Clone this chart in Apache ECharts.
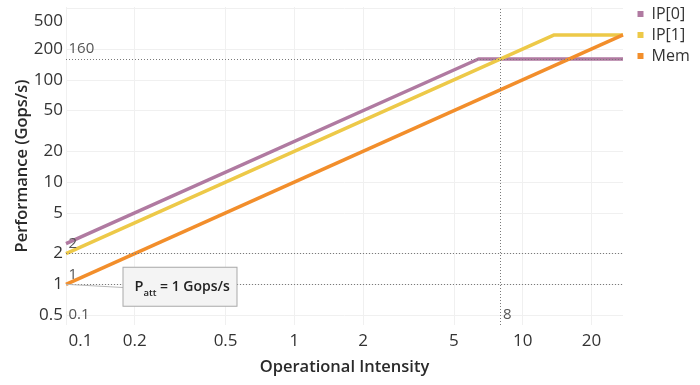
<!DOCTYPE html>
<html>
<head>
<meta charset="utf-8">
<script src="https://cdn.jsdelivr.net/npm/echarts@6/dist/echarts.min.js"></script>
<style>
html,body{margin:0;padding:0;background:#fff;}
#chart{width:700px;height:385px;}
</style>
</head>
<body>
<div id="chart"></div>
<script>
// ---- data ----
const seriesNames = ['IP[0]', 'IP[1]', 'Mem'];
const ip0 = [[0.1, 2.5], [6.4, 160], [27.5, 160]];
const ip1 = [[0.1, 2], [13.75, 275], [27.5, 275]];
const mem = [[0.1, 1], [27.5, 275]];
const xTicks = [0.1, 0.2, 0.5, 1, 2, 5, 10, 20];
const yTicks = [0.5, 1, 2, 5, 10, 20, 50, 100, 200, 500];
const xRange = [0.1, 27.5];
const yRange = [0.4, 516];
const refY = [160, 2, 1];
const refX = [8];
const refLabels = [
  {text: '160', at: [0.1, 160]},
  {text: '2', at: [0.1, 2]},
  {text: '1', at: [0.1, 1]},
  {text: '0.1', at: [0.1, 0.4]},
  {text: '8', at: [8, 0.4]}
];
const annotAnchor = [0.1, 1];
const annotEnd = [0.1786, 0.93];

const colors = ['#b07aa1', '#edc948', '#f28e2b'];
const FONT = '"Open Sans", "Noto Sans", sans-serif';
const AFONT = '"Open Sans", "Noto Sans", sans-serif';
const fmt = v => String(+(+v).toPrecision(6));

const chart = echarts.init(document.getElementById('chart'), null, {renderer: 'canvas'});

const lineSeries = [ip0, ip1, mem].map((d, i) => ({
  name: seriesNames[i],
  type: 'line',
  data: d,
  symbol: 'none',
  lineStyle: {width: 3.5, color: colors[i]},
  itemStyle: {color: colors[i]},
  z: 2 + i,
  silent: true
}));

const refSeries = {
  name: '_ref',
  type: 'line',
  data: [],
  z: 10,
  silent: true,
  markLine: {
    silent: true,
    symbol: 'none',
    animation: false,
    label: {show: false},
    lineStyle: {color: '#7a7a7a', width: 1, type: [1, 2]},
    data: [
      ...refY.map(v => ({yAxis: v})),
      ...refX.map(v => ({xAxis: v})),
      [{coord: annotAnchor, lineStyle: {color: '#b8b8b8', type: 'solid', width: 1}},
       {coord: annotEnd}]
    ]
  },
  markPoint: {
    silent: true,
    animation: false,
    symbol: 'circle',
    symbolSize: 0,
    data: [
      ...refLabels.map(r => ({
        coord: r.at,
        label: {
          show: true, formatter: r.text, position: [2.5, -10],
          align: 'left', verticalAlign: 'middle',
          fontFamily: FONT, fontSize: 15, color: '#555'
        }
      })),
      {
        coord: annotAnchor,
        label: {
          show: true,
          position: [57.5, -16.5],
          align: 'left', verticalAlign: 'top',
          formatter: '{p|P}{s|att}{t| = 1 Gops/s}',
          backgroundColor: '#f4f4f4',
          borderColor: '#a9a9a9',
          borderWidth: 1,
          width: 92,
          height: 21,
          padding: [9, 10, 8, 11],
          rich: {
            p: {fontFamily: AFONT, fontSize: 14.5, fontWeight: 600, color: '#222', lineHeight: 21},
            s: {fontFamily: AFONT, fontSize: 9.5, fontWeight: 600, color: '#222', lineHeight: 9, verticalAlign: 'bottom'},
            t: {fontFamily: AFONT, fontSize: 14, fontWeight: 600, color: '#222', lineHeight: 21}
          }
        }
      }
    ]
  }
};

const option = {
  animation: false,
  backgroundColor: '#fff',
  grid: {left: 66, right: 77, top: 7, bottom: 60, containLabel: false},
  legend: {
    data: seriesNames.map(n => ({name: n, icon: 'rect'})),
    orient: 'vertical',
    left: 632.5, top: 1,
    itemWidth: 6, itemHeight: 6, itemGap: 5,
    textStyle: {fontFamily: FONT, fontSize: 16, color: '#333', lineHeight: 16, padding: [0, 0, 0, 3]}
  },
  xAxis: {
    type: 'log', logBase: 10,
    min: xRange[0], max: xRange[1],
    name: 'Operational Intensity',
    nameLocation: 'middle', nameGap: 34,
    nameMoveOverlap: false,
    nameTextStyle: {fontFamily: FONT, fontSize: 16.5, fontWeight: 600, color: '#2a2a2a'},
    axisLine: {show: false},
    axisTick: {show: false, customValues: xTicks},
    axisLabel: {
      customValues: xTicks,
      fontFamily: FONT, fontSize: 17, color: '#333', margin: 8,
      formatter: v => {
        const s = fmt(v);
        return s === '0.1' ? '{e|' + s + '}' : s;
      },
      rich: {e: {fontFamily: FONT, fontSize: 17, color: '#333', padding: [0, 0, 0, 29]}}
    },
    splitLine: {show: true, lineStyle: {color: '#f0f0f0', width: 1}},
    minorTick: {show: false}, minorSplitLine: {show: false}
  },
  yAxis: {
    type: 'log', logBase: 10,
    min: yRange[0], max: yRange[1],
    name: 'Performance (Gops/s)',
    nameLocation: 'middle', nameGap: 35,
    nameMoveOverlap: false,
    nameTextStyle: {fontFamily: FONT, fontSize: 16.5, fontWeight: 600, color: '#2a2a2a'},
    axisLine: {show: false},
    axisTick: {show: false, customValues: yTicks},
    axisLabel: {
      customValues: yTicks,
      fontFamily: FONT, fontSize: 17, color: '#333', margin: 3,
      formatter: v => {
        const s = fmt(v);
        return s === '500' ? '{e|' + s + '}' : s;
      },
      rich: {e: {fontFamily: FONT, fontSize: 17, color: '#333', padding: [26, 0, 0, 0]}}
    },
    splitLine: {show: true, lineStyle: {color: '#f0f0f0', width: 1}},
    minorTick: {show: false}, minorSplitLine: {show: false}
  },
  series: [...lineSeries, refSeries]
};

chart.setOption(option);
</script>
</body>
</html>
